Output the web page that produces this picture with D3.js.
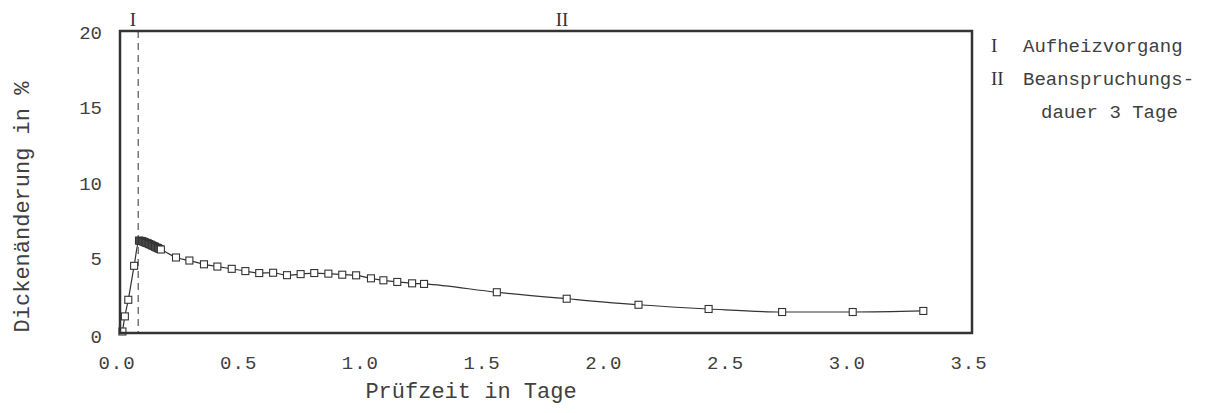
<!DOCTYPE html>
<html>
<head>
<meta charset="utf-8">
<script src="https://cdn.jsdelivr.net/npm/d3@7"></script>
<style>
  body { margin: 0; background: #fff; }
  text { font-family: "Liberation Mono", "DejaVu Sans Mono", monospace; fill: #404040; }
  .roman { font-family: "Liberation Serif", "DejaVu Serif", serif; fill: #333; }
</style>
</head>
<body>
<div id="vis-container"></div>
<script>
// ------------------------------ DATA ------------------------------ //
// Test time in days and thickness change in %
const days = [
  0.01, 0.02, 0.034, 0.058,
  0.078, 0.084, 0.090, 0.096, 0.102, 0.108, 0.114, 0.120,
  0.126, 0.132, 0.138, 0.144, 0.150, 0.156, 0.162, 0.168,
  0.23, 0.285, 0.345, 0.40, 0.459, 0.515, 0.572, 0.629, 0.686,
  0.742, 0.798, 0.856, 0.913, 0.970, 1.031, 1.082, 1.139, 1.20, 1.249,
  1.548, 1.835, 2.13, 2.418, 2.72, 3.01, 3.30
];
const thicknessChange = [
  0.1, 1.1, 2.2, 4.45,
  6.12, 6.10, 6.09, 6.05, 6.01, 5.97, 5.94, 5.89,
  5.85, 5.80, 5.76, 5.71, 5.66, 5.62, 5.57, 5.53,
  5.0, 4.8, 4.55, 4.4, 4.25, 4.1, 3.97, 3.99, 3.83,
  3.9, 3.97, 3.93, 3.86, 3.82, 3.62, 3.49, 3.38, 3.29, 3.25,
  2.70, 2.27, 1.87, 1.59, 1.39, 1.39, 1.46
];
const xTicks = [0, 0.5, 1.0, 1.5, 2.0, 2.5, 3.0, 3.5];
const yTicks = [0, 5, 10, 15, 20];
const phaseBoundary = 0.075;   // end of heating phase (I)
const legendLines = [
  ["I", "Aufheizvorgang"],
  ["II", "Beanspruchungs-"],
  ["", "dauer 3 Tage"]
];

// ------------------------------ SET UP ------------------------------ //
const width = 1207;
const height = 413;
const margin = { top: 31, right: 235, bottom: 80, left: 120 };

const svg = d3.select("#vis-container")
  .append("svg")
  .attr("width", width)
  .attr("height", height);

const xScale = d3.scaleLinear()
  .domain([0, 3.5])
  .range([margin.left, width - margin.right]);

const yScale = d3.scaleLinear()
  .domain([0, 20])
  .range([height - margin.bottom, margin.top]);

const data = days.map((d, i) => ({ x: d, y: thicknessChange[i] }));

// Tick labels (no tick marks in the original)
svg.append("g")
  .selectAll("text")
  .data(xTicks)
  .enter()
  .append("text")
  .attr("x", (d) => xScale(d) - 3)
  .attr("y", 362)
  .attr("dy", "0.35em")
  .attr("text-anchor", "middle")
  .attr("font-size", "19px")
  .attr("letter-spacing", "1px")
  .text((d) => d.toFixed(1));

svg.append("g")
  .selectAll("text")
  .data(yTicks)
  .enter()
  .append("text")
  .attr("x", 102)
  .attr("y", (d) => yScale(d) + (d === 0 ? 3 : 1))
  .attr("dy", "0.35em")
  .attr("text-anchor", "end")
  .attr("font-size", "19px")
  .text((d) => d);

// Axis titles
svg.append("text")
  .attr("x", 471)
  .attr("y", 390)
  .attr("dy", "0.35em")
  .attr("text-anchor", "middle")
  .attr("font-size", "22px")
  .text("Prüfzeit in Tage");

svg.append("text")
  .attr("transform", `translate(21, 207) rotate(-90)`)
  .attr("dy", "0.35em")
  .attr("text-anchor", "middle")
  .attr("font-size", "22px")
  .text("Dickenänderung in %");

// Phase boundary
svg.append("line")
  .attr("x1", xScale(phaseBoundary))
  .attr("x2", xScale(phaseBoundary))
  .attr("y1", yScale(20))
  .attr("y2", yScale(0))
  .attr("stroke", "#777")
  .attr("stroke-width", 1.5)
  .attr("stroke-dasharray", "7,5");

svg.append("text")
  .attr("class", "roman")
  .attr("x", 133)
  .attr("y", 19)
  .attr("dy", "0.35em")
  .attr("text-anchor", "middle")
  .attr("font-size", "19px")
  .text("I");

svg.append("text")
  .attr("class", "roman")
  .attr("x", 562)
  .attr("y", 19)
  .attr("dy", "0.35em")
  .attr("text-anchor", "middle")
  .attr("font-size", "19px")
  .text("II");

// Curve
const line = d3.line()
  .x((d) => xScale(d.x))
  .y((d) => yScale(d.y))
  .curve(d3.curveMonotoneX);

svg.append("path")
  .datum(data)
  .attr("fill", "none")
  .attr("stroke", "#333")
  .attr("stroke-width", 1.2)
  .attr("d", line);

// Open square markers (the dense cluster after heating looks smeared dark)
svg.selectAll(".marker")
  .data(data)
  .enter()
  .append("rect")
  .attr("class", "marker")
  .attr("x", (d) => xScale(d.x) - 3.5)
  .attr("y", (d) => yScale(d.y) - 3.5)
  .attr("width", 7)
  .attr("height", 7)
  .attr("fill", (d) => (d.x > 0.07 && d.x < 0.165) ? "#666" : "#fff")
  .attr("stroke", "#333")
  .attr("stroke-width", 1.1);

// Frame
svg.append("rect")
  .attr("x", xScale(0))
  .attr("y", yScale(20))
  .attr("width", xScale(3.5) - xScale(0))
  .attr("height", yScale(0) - yScale(20))
  .attr("fill", "none")
  .attr("stroke", "#333")
  .attr("stroke-width", 2.5);

// Legend
const legend = svg.append("g");
legendLines.forEach((row, i) => {
  const y = 45 + i * 33;
  legend.append("text")
    .attr("class", "roman")
    .attr("x", 991)
    .attr("y", y)
    .attr("dy", "0.35em")
    .attr("font-size", "19px")
    .text(row[0]);
  legend.append("text")
    .attr("x", i === 2 ? 1041 : 1023)
    .attr("y", y)
    .attr("dy", "0.35em")
    .attr("font-size", "19px")
    .text(row[1]);
});
</script>
</body>
</html>
